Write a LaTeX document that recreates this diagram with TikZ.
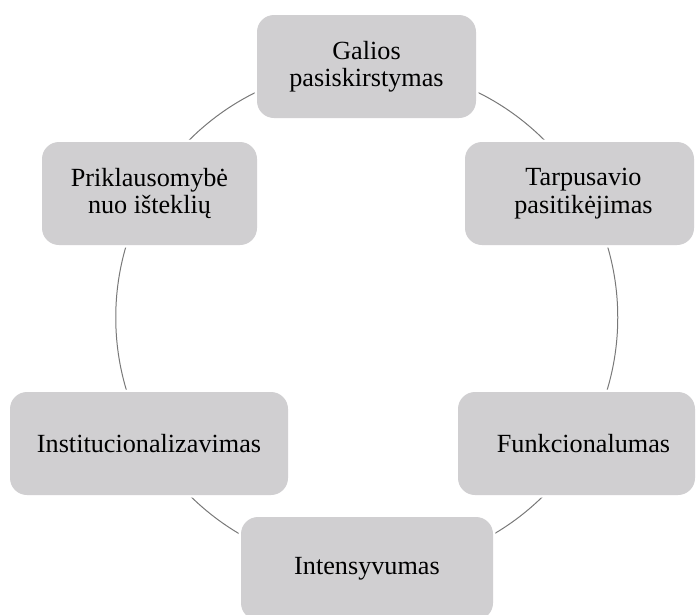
\documentclass[tikz,border=0pt]{standalone}
\usepackage{fontspec}
\setmainfont{Liberation Serif}
\definecolor{boxfill}{RGB}{208,207,209}
\definecolor{ringline}{RGB}{120,120,120}
\begin{document}
\begin{tikzpicture}[x=1pt,y=-1pt,
  stage/.style={rectangle, rounded corners=17pt, fill=boxfill,
    preaction={draw=white, line width=5pt},
    minimum height=103pt, inner sep=0pt, align=center,
    font=\fontsize{26.2}{27.5}\selectfont},
  ring/.style={draw=ringline, line width=1pt}]
  \useasboundingbox (0,0) rectangle (696,614);
  \clip (0,0) rectangle (696,614);
  % the cycle ring behind the stages
  \coordinate (hub) at (366.75,317.5);
  \draw[ring] (hub) circle[radius=251pt];
  % the six stages
  \node[stage, minimum width=219pt] (galia) at (366.5,66.5) {Galios\\pasiskirstymas};
  \node[stage, minimum width=229pt] (pasitikejimas) at (579.5,193.5) {\hspace*{8pt}Tarpusavio\\\hspace*{8pt}pasitikėjimas};
  \node[stage, minimum width=237pt] (funkcionalumas) at (576.5,443.5) {\hspace*{14pt}Funkcionalumas};
  \node[stage, minimum width=252pt] (intensyvumas) at (367,568.5) {Intensyvumas};
  \node[stage, minimum width=278pt] (institucionalizavimas) at (149,443.5) {Institucionalizavimas};
  \node[stage, minimum width=215pt] (priklausomybe) at (149.5,193.5) {Priklausomybė\\nuo išteklių};
\end{tikzpicture}
\end{document}
